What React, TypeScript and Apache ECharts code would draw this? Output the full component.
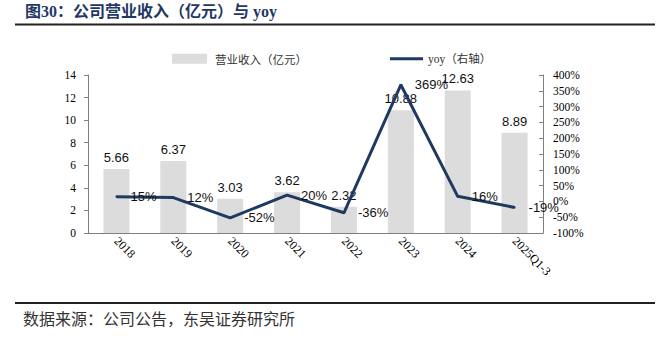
import React, { useEffect, useRef } from "react";
import * as echarts from "echarts";

const categories = ["2018", "2019", "2020", "2021", "2022", "2023", "2024", "2025Q1-3"];
const revenue = [5.66, 6.37, 3.03, 3.62, 2.32, 10.88, 12.63, 8.89];
const yoy = [15, 12, -52, 20, -36, 369, 16, -19];

const TITLE = "图30：公司营业收入（亿元）与 yoy";
const SOURCE = "数据来源：公司公告，东吴证券研究所";
const BAR_NAME = "营业收入（亿元）";
const LINE_NAME = "yoy（右轴）";

const SERIF = '"Liberation Serif", "Times New Roman", "Noto Sans CJK SC", serif';
const SANS = '"Liberation Sans", Arial, "Noto Sans CJK SC", sans-serif';
const CJK = '"Noto Sans CJK SC", sans-serif';

export default function App() {
  const ref = useRef<HTMLDivElement>(null);
  useEffect(() => {
    if (!ref.current) return;
    const chart = echarts.init(ref.current, null, { renderer: "svg" });
    const axisColor = "#7f7f7f";
    chart.setOption({
      animation: false,
      backgroundColor: "#fff",
      grid: { left: 88, right: 123, top: 75, bottom: 106, containLabel: false },
      legend: [
        {
          data: [{ name: BAR_NAME, icon: "rect" }],
          left: 167,
          top: 48,
          itemWidth: 35,
          itemHeight: 10,
          textStyle: { fontFamily: CJK, fontSize: 11.5, color: "#333", padding: [0, 0, 0, 3] },
        },
        {
          data: [{ name: LINE_NAME, icon: "rect" }],
          left: 385,
          top: 48,
          itemWidth: 33,
          itemHeight: 3,
          itemGap: 2,
          textStyle: { fontFamily: SERIF, fontSize: 11.5, color: "#333" },
        },
      ],
      xAxis: {
        type: "category",
        data: categories,
        boundaryGap: true,
        axisLine: { lineStyle: { color: axisColor } },
        axisTick: { inside: true, length: 5, lineStyle: { color: axisColor } },
        axisLabel: { rotate: -45, margin: 6, fontFamily: SERIF, fontSize: 12, color: "#000", interval: 0 },
        splitLine: { show: false },
      },
      yAxis: [
        {
          type: "value",
          min: 0,
          max: 14,
          interval: 2,
          axisLine: { show: true, lineStyle: { color: axisColor } },
          axisTick: { show: true, length: 4, lineStyle: { color: axisColor } },
          axisLabel: { margin: 12, fontFamily: SERIF, fontSize: 11.5, color: "#000" },
          splitLine: { show: false },
        },
        {
          type: "value",
          min: -100,
          max: 400,
          interval: 50,
          position: "right",
          axisLine: { show: true, lineStyle: { color: axisColor } },
          axisTick: { show: true, inside: true, length: 4, lineStyle: { color: axisColor } },
          axisLabel: { margin: 10, fontFamily: SERIF, fontSize: 11.5, color: "#000", formatter: "{value}%" },
          splitLine: { show: false },
        },
      ],
      series: [
        {
          name: BAR_NAME,
          type: "bar",
          data: revenue,
          barWidth: 26,
          itemStyle: { color: "#dcdcdc" },
          label: { show: true, position: "top", distance: 5, fontFamily: SANS, fontSize: 13, color: "#111" },
        },
        {
          name: LINE_NAME,
          type: "line",
          yAxisIndex: 1,
          data: yoy,
          symbol: "circle",
          symbolSize: 2,
          lineStyle: { color: "#1f3a60", width: 3 },
          itemStyle: { color: "#1f3a60" },
          label: {
            show: true,
            position: "right",
            distance: 13,
            fontFamily: SANS,
            fontSize: 13,
            color: "#111",
            formatter: "{c}%",
          },
        },
      ],
      graphic: [
        {
          type: "text",
          left: 25,
          top: 3,
          style: { text: TITLE, fontFamily: SERIF, fontWeight: "bold", fontSize: 16, fill: "#1f3864" },
        },
        { type: "line", shape: { x1: 15, y1: 24.5, x2: 655, y2: 24.5 }, style: { stroke: "#222", lineWidth: 2 } },
        { type: "line", shape: { x1: 15, y1: 303, x2: 655, y2: 303 }, style: { stroke: "#222", lineWidth: 2 } },
        {
          type: "text",
          left: 23,
          top: 310,
          style: { text: SOURCE, fontFamily: CJK, fontSize: 16, fill: "#333" },
        },
      ],
    });
    return () => chart.dispose();
  }, []);
  return <div ref={ref} style={{ width: 666, height: 339, position: "absolute", left: 0, top: 0 }} />;
}
